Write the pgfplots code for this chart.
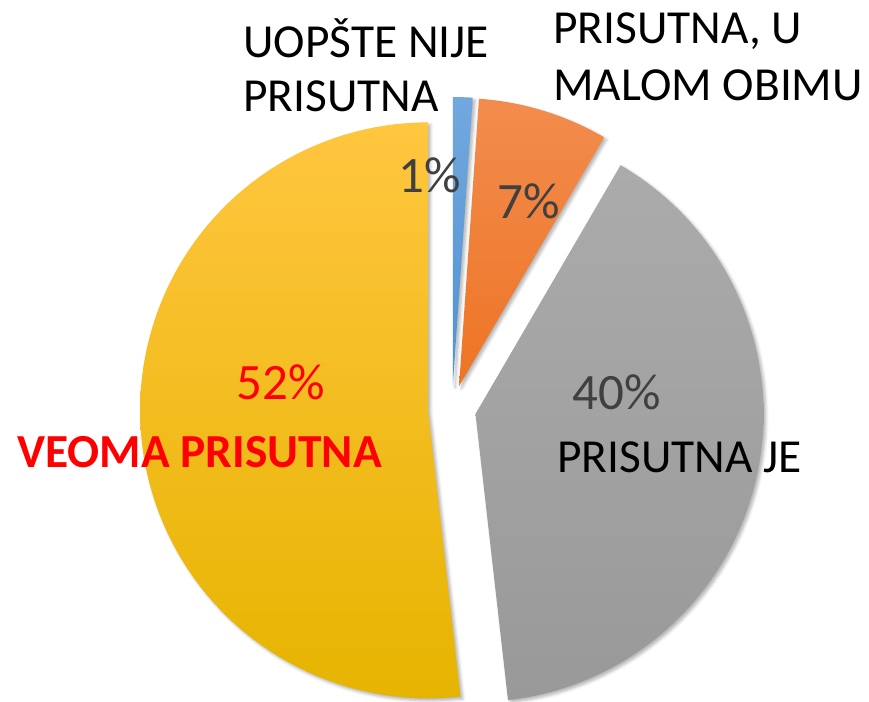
\documentclass[border=0pt]{standalone}
\usepackage{pgfplots}
\usepackage{pgfplotstable}
\pgfplotsset{compat=1.18}
\usetikzlibrary{shadows.blur}
\usepackage{fontspec}
\setmainfont{Carlito}

\definecolor{bluetop}{HTML}{72A8DE}
\definecolor{bluebot}{HTML}{4F92D4}
\definecolor{orgtop}{HTML}{F28C4E}
\definecolor{orgbot}{HTML}{EE7424}
\definecolor{graytop}{HTML}{ABABAB}
\definecolor{graybot}{HTML}{999999}
\definecolor{yeltop}{HTML}{FFC63F}
\definecolor{yelmid}{HTML}{FFC000}
\definecolor{yelbot}{HTML}{E6B400}
\definecolor{pcttext}{HTML}{404040}

% share of each slice (percent), clockwise from 12 o'clock
\pgfplotstableread{
label pct
uopste  1.1
malom   7.3
prisutna 39.8
veoma   51.8
}\piedata

\pgfplotstablegetelem{0}{pct}\of\piedata \pgfmathsetmacro\pA{\pgfplotsretval}
\pgfplotstablegetelem{1}{pct}\of\piedata \pgfmathsetmacro\pB{\pgfplotsretval}
\pgfplotstablegetelem{2}{pct}\of\piedata \pgfmathsetmacro\pC{\pgfplotsretval}
\pgfplotstablegetelem{3}{pct}\of\piedata \pgfmathsetmacro\pD{\pgfplotsretval}

% geometry (picture units = pixels of the reference)
\def\Cx{452}\def\Cy{409}\def\R{288}\def\D{24}
\pgfmathsetmacro\aO{90}
\pgfmathsetmacro\aA{\aO-3.6*\pA}
\pgfmathsetmacro\aB{\aA-3.6*\pB}
\pgfmathsetmacro\aC{\aB-3.6*\pC}
\pgfmathsetmacro\aD{\aC-3.6*\pD}
\pgfmathsetmacro\mA{(\aO+\aA)/2}
\pgfmathsetmacro\mB{(\aA+\aB)/2}
\pgfmathsetmacro\mC{(\aB+\aC)/2}
\pgfmathsetmacro\mD{(\aC+\aD)/2}
\pgfmathsetmacro\xA{\Cx+\D*cos(\mA)}\pgfmathsetmacro\yA{\Cy-\D*sin(\mA)}
\pgfmathsetmacro\xB{\Cx+\D*cos(\mB)}\pgfmathsetmacro\yB{\Cy-\D*sin(\mB)}
\pgfmathsetmacro\xC{\Cx+\D*cos(\mC)}\pgfmathsetmacro\yC{\Cy-\D*sin(\mC)}
\pgfmathsetmacro\xD{\Cx+\D*cos(\mD)}\pgfmathsetmacro\yD{\Cy-\D*sin(\mD)}

\begin{document}
\begin{tikzpicture}
\begin{axis}[
  name=pie,
  width=434.5pt, height=351pt, scale only axis,
  xmin=0, xmax=869, ymin=0, ymax=702, y dir=reverse,
  hide axis, clip=false,
  every axis plot/.append style={draw=none, samples=90, variable=\t,
    blur shadow={shadow xshift=1.2pt, shadow yshift=-1.2pt, shadow blur radius=1.5pt, shadow opacity=30}},
]
% wedges
\addplot[top color=yeltop, middle color=yelmid, bottom color=yelbot, domain=\aD:\aC]
  ({\xD+\R*cos(\t)},{\yD-\R*sin(\t)}) -- (axis cs:\xD,\yD) -- cycle;
\addplot[top color=graytop, bottom color=graybot, domain=\aC:\aB]
  ({\xC+\R*cos(\t)},{\yC-\R*sin(\t)}) -- (axis cs:\xC,\yC) -- cycle;
\addplot[top color=orgtop, bottom color=orgbot, domain=\aB:\aA]
  ({\xB+\R*cos(\t)},{\yB-\R*sin(\t)}) -- (axis cs:\xB,\yB) -- cycle;
\addplot[top color=bluetop, bottom color=bluebot, domain=\aA:\aO, samples=10]
  ({\xA+\R*cos(\t)},{\yA-\R*sin(\t)}) -- (axis cs:\xA,\yA) -- cycle;

% category labels
\begin{scope}[every node/.style={inner sep=0pt, anchor=base west, font=\fontsize{23.7pt}{28pt}\selectfont}]
\node at (axis cs:243,57)  {UOPŠTE NIJE};
\node at (axis cs:243,112) {PRISUTNA};
\node at (axis cs:553,43)  {PRISUTNA, U};
\node at (axis cs:553,100) {MALOM OBIMU};
\node at (axis cs:557,472) {PRISUTNA JE};
\node[text=red, font=\fontsize{23.7pt}{28pt}\selectfont\bfseries] at (axis cs:17,467) {VEOMA PRISUTNA};
\end{scope}
% percentages
\begin{scope}[every node/.style={inner sep=0pt, anchor=base west, text=pcttext, font=\fontsize{25.5pt}{30pt}\selectfont}]
\node at (axis cs:398,192) {1\%};
\node at (axis cs:497,218) {7\%};
\node at (axis cs:572,409) {40\%};
\node[text=red] at (axis cs:236,399) {52\%};
\end{scope}
\end{axis}
\pgfresetboundingbox
\useasboundingbox (pie.south west) rectangle (pie.north east);
\end{tikzpicture}
\end{document}
